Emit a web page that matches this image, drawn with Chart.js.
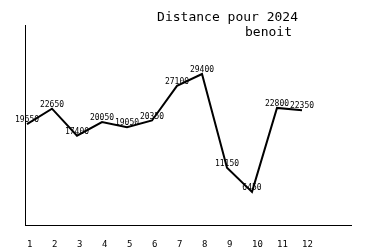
<!DOCTYPE html>
<html><head><meta charset="utf-8">
<script src="https://cdn.jsdelivr.net/npm/chart.js@4/dist/chart.umd.min.js"></script>
<style>html,body{margin:0;padding:0;background:#fff}#wrap{width:375px;height:250px}</style>
</head><body><div id="wrap"><canvas id="c" width="375" height="250"></canvas></div>
<script>
const months = [1,2,3,4,5,6,7,8,9,10,11,12];
const monthLabels = ['1','2','3','4','5','6','7','8','9','10','11','12'];
const distances = [19650,22650,17400,20050,19050,20350,27100,29400,11150,6450,22800,22350];
const titleLines = ['Distance pour 2024','benoit'];

const MONO = '"DejaVu Sans Mono", "Liberation Mono", monospace';

const valueLabels = {
  id:'valueLabels',
  afterDatasetsDraw(chart){
    const ctx = chart.ctx;
    const meta = chart.getDatasetMeta(0);
    ctx.save();
    ctx.font = '8px ' + MONO;
    ctx.fillStyle = '#000';
    ctx.textAlign = 'center';
    ctx.textBaseline = 'middle';
    meta.data.forEach((pt,i)=>{
      ctx.fillText(String(distances[i]), pt.x, pt.y - 4);
    });
    ctx.restore();
  }
};
const titleDraw = {
  id:'titleDraw',
  afterDraw(chart){
    const ctx = chart.ctx;
    ctx.save();
    ctx.font = '13px ' + MONO;
    ctx.fillStyle = '#000';
    ctx.textAlign = 'right';
    ctx.textBaseline = 'middle';
    ctx.fillText(titleLines[0], 298, 18);
    ctx.fillText(titleLines[1], 292, 33);
    ctx.restore();
  }
};

new Chart(document.getElementById('c'), {
  type:'line',
  data:{
    datasets:[{
      data: months.map((m,i)=>({x:m,y:distances[i]})),
      borderColor:'#000',
      borderWidth:2,
      pointRadius:0,
      tension:0,
      fill:false
    }]
  },
  options:{
    responsive:false,
    animation:false,
    devicePixelRatio:1,
    layout:{padding:{left:25,right:24,top:25,bottom:0}},
    plugins:{legend:{display:false},tooltip:{enabled:false},title:{display:false}},
    scales:{
      x:{
        type:'linear', min:0.92, max:13.96,
        afterBuildTicks(scale){ scale.ticks = months.map(v=>({value:v})); },
        afterFit(scale){ scale.height = 25; },
        grid:{display:false, drawTicks:false},
        border:{display:true,color:'#000',width:1},
        ticks:{
          align:'start', padding:14, color:'#000', maxRotation:0, autoSkip:false,
          font:{family:MONO,size:9},
          callback:(v)=>monthLabels[months.indexOf(v)] ?? ''
        }
      },
      y:{
        min:0, max:38940,
        afterFit(scale){ scale.width = 0; },
        grid:{display:false, drawTicks:false},
        border:{display:true,color:'#000',width:1},
        ticks:{display:false}
      }
    }
  },
  plugins:[valueLabels,titleDraw]
});
</script>
</body></html>
